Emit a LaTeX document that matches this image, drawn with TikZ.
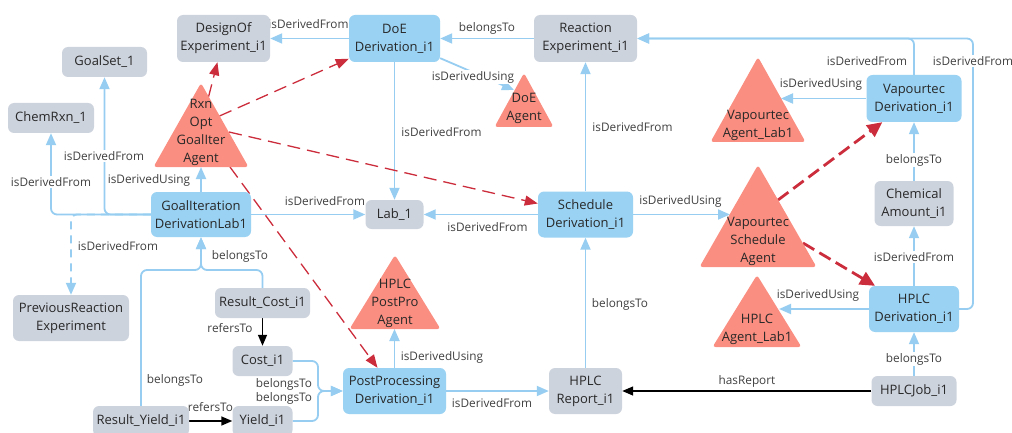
\documentclass[tikz,border=0pt]{standalone}
\usepackage{fontspec}
\setmainfont{Open Sans}
\usetikzlibrary{arrows.meta}
\pgfdeclarelayer{bg}
\pgfsetlayers{bg,main}
\definecolor{boxblue}{RGB}{153,210,243}
\definecolor{boxgray}{RGB}{205,211,221}
\definecolor{agentred}{RGB}{250,142,128}
\definecolor{linkblue}{RGB}{150,205,240}
\definecolor{dashred}{RGB}{204,45,60}
\definecolor{ink}{RGB}{40,40,40}
\definecolor{lblink}{RGB}{64,64,64}
\newcommand\nfont{\fontsize{13}{18}\selectfont}
\newcommand\lfont{\fontsize{11.8}{14}\selectfont}
% agent triangle: apex x, apex y, base y, half base width
\newcommand\agenttri[4]{\fill[agentred, rounded corners=3pt] (#1,#2) -- (#1+#4,#3) -- (#1-#4,#3) -- cycle;}
\begin{document}
\begin{tikzpicture}[x=1pt,y=-1pt,
  box/.style={rounded corners=6pt, align=center, text=ink, inner sep=0pt, font=\nfont},
  bluebox/.style={box, fill=boxblue},
  graybox/.style={box, fill=boxgray},
  wh/.style 2 args={minimum width=#1pt, minimum height=#2pt},
  agenttext/.style={align=center, text=ink, font=\nfont, inner sep=0pt},
  lbl/.style={font=\lfont, text=lblink, fill=white, inner sep=1pt},
  link/.style={draw=linkblue, line width=1.8pt, rounded corners=6pt, -{Triangle[length=12pt,width=10pt]}},
  refer/.style={draw=black, line width=1.4pt, -{Triangle[length=11pt,width=9pt]}},
  plan/.style={draw=dashred, line width=1.3pt, dash pattern=on 13pt off 7pt, -{Triangle[length=13pt,width=10pt]}},
  planbold/.style={draw=dashred, line width=2.8pt, dash pattern=on 13pt off 6pt, -{Triangle[length=15pt,width=14pt]}},
]
\useasboundingbox (0,0) rectangle (1012,433);

% agents
\agenttri{201}{83}{167}{47.5}
\agenttri{524}{73}{127}{29.5}
\agenttri{758}{57}{142}{47.5}
\agenttri{758}{165}{267}{58.5}
\agenttri{757}{275}{347}{44.5}
\agenttri{395}{255}{329}{45.5}
\node[agenttext] (rxa) at (201,132.5) {Rxn\\Opt\\GoalIter\\Agent};
\node[agenttext] (doea) at (524,108.5) {DoE\\Agent};
\node[agenttext] (vala) at (758,125.5) {Vapourtec\\Agent\_Lab1};
\node[agenttext] (vsa) at (758,241) {Vapourtec\\Schedule\\Agent};
\node[agenttext] (hala) at (757,329.5) {HPLC\\Agent\_Lab1};
\node[agenttext] (hpa) at (395,303.5) {HPLC\\PostPro\\Agent};

% entities
\node[graybox, wh={93}{47}] (de) at (223.5,38.5) {DesignOf\\Experiment\_i1};
\node[graybox, wh={85}{30}] (gs) at (104.5,62) {GoalSet\_1};
\node[graybox, wh={86}{30}] (chem) at (51,118) {ChemRxn\_1};
\node[bluebox, wh={100}{45}] (gi) at (201,214.5) {GoalIteration\\DerivationLab1};
\node[graybox, wh={116}{46}] (prev) at (71,318) {PreviousReaction\\Experiment};
\node[bluebox, wh={91}{47}] (dd) at (394.5,38.5) {DoE\\Derivation\_i1};
\node[graybox, wh={103}{47}] (re) at (585.5,38.5) {Reaction\\Experiment\_i1};
\node[graybox, wh={58}{29}] (lab) at (394.5,214.5) {Lab\_1};
\node[bluebox, wh={95}{46}] (sd) at (585.5,214.5) {Schedule\\Derivation\_i1};
\node[bluebox, wh={95}{47}] (vd) at (914,98.5) {Vapourtec\\Derivation\_i1};
\node[graybox, wh={79}{45}] (ca) at (914,203.5) {Chemical\\Amount\_i1};
\node[bluebox, wh={90}{46}] (hd) at (914,309) {HPLC\\Derivation\_i1};
\node[graybox, wh={85}{30}] (hj) at (914,391) {HPLCJob\_i1};
\node[graybox, wh={73}{46}] (hr) at (585.5,391) {HPLC\\Report\_i1};
\node[bluebox, wh={103}{46}] (pp) at (394.5,391) {PostProcessing\\Derivation\_i1};
\node[graybox, wh={95}{30}] (rc) at (262.5,303) {Result\_Cost\_i1};
\node[graybox, wh={60}{30}] (cost) at (262.5,361) {Cost\_i1};
\node[graybox, wh={60}{30}] (yield) at (262.5,421) {Yield\_i1};
\node[graybox, wh={96}{30}] (ry) at (141,421) {Result\_Yield\_i1};

% connector end points on agent borders and junctions
\coordinate (doein) at (514,90);
\coordinate (rxbase) at (201,167);
\coordinate (vsain) at (730,214.5);
\coordinate (valin) at (781,98.5);
\coordinate (halin) at (779,309);
\coordinate (hpabase) at (394.5,329);
\coordinate (gij) at (201,270);
\coordinate (ppj) at (318,391);
\coordinate (rjoin) at (973,38.5);
\coordinate (rxo1) at (208.5,97);
\coordinate (rxo2) at (219.5,116);
\coordinate (rxo3) at (229,132);
\coordinate (rxo4) at (230,167);
\coordinate (vso1) at (778,200);
\coordinate (vso2) at (803,243);

\begin{pgfonlayer}{bg}
  \draw[link] (dd) -- (de);
  \draw[link] (re) -- (dd);
  \draw[link] (dd) -- (doein);
  \draw[link] (dd) -- (lab);
  \draw[link] (sd) -- (re);
  \draw[link] (sd) -- (lab);
  \draw[link] (gi) -- (lab);
  \draw[link] (sd.east) -- (vsain);
  \draw[link] (gi.north) -- (rxbase);
  \draw[link] (gi.west) -| (chem.south);
  \draw[link] (gi.west) -| (gs.south);
  \draw[link, dash pattern=on 8pt off 6pt] (gi.west) -| (prev.north);
  \draw[link] (rc.north) |- (gij) -- (gi.south);
  \draw[link] (ry.north) |- (gij) -- (gi.south);
  \draw[refer] (rc) -- (cost);
  \draw[refer] (ry) -- (yield);
  \draw[link] (cost.east) -| (ppj) -- (pp.west);
  \draw[link] (yield.east) -| (ppj) -- (pp.west);
  \draw[link] (pp.north) -- (hpabase);
  \draw[link] (pp) -- (hr);
  \draw[link] (hr) -- (sd);
  \draw[refer] (hj) -- (hr);
  \draw[link] (hj) -- (hd);
  \draw[link] (hd) -- (ca);
  \draw[link] (ca) -- (vd);
  \draw[link] (hd) -- (halin);
  \draw[link] (vd) -- (valin);
  \draw[link] (hd.east) -| (rjoin) -- (re.east);
  \draw[link] (vd.north) |- (re.east);

  \draw[plan] (rxo1) -- (de);
  \draw[plan] (rxo2) -- (dd);
  \draw[plan] (rxo3) -- (sd);
  \draw[plan] (rxo4) -- (pp);
  \draw[planbold] (vso1) -- (vd);
  \draw[planbold] (vso2) -- (hd);

  % connector labels
  \node[lbl] at (308.5,24) {isDerivedFrom};
  \node[lbl] at (487,28) {belongsTo};
  \node[lbl] at (473,77) {isDerivedUsing};
  \node[lbl] at (441.5,132) {isDerivedFrom};
  \node[lbl] at (632.5,127) {isDerivedFrom};
  \node[lbl] at (867,61) {isDerivedFrom};
  \node[lbl] at (973,61) {isDerivedFrom};
  \node[lbl] at (821,84) {isDerivedUsing};
  \node[lbl] at (914,160) {belongsTo};
  \node[lbl] at (680.5,201) {isDerivedUsing};
  \node[lbl] at (325,201) {isDerivedFrom};
  \node[lbl] at (487.5,227) {isDerivedFrom};
  \node[lbl] at (149,180) {isDerivedUsing};
  \node[lbl] at (104,156) {isDerivedFrom};
  \node[lbl] at (51,182) {isDerivedFrom};
  \node[lbl] at (118,246) {isDerivedFrom};
  \node[lbl] at (240,256) {belongsTo};
  \node[lbl] at (175,380) {belongsTo};
  \node[lbl] at (230,328) {refersTo};
  \node[lbl] at (210.5,407) {refersTo};
  \node[lbl, align=center] at (284,391) {belongsTo\\belongsTo};
  \node[lbl] at (442,357) {isDerivedUsing};
  \node[lbl] at (492,403) {isDerivedFrom};
  \node[lbl] at (620,304) {belongsTo};
  \node[lbl] at (747,381) {hasReport};
  \node[lbl] at (914,359) {belongsTo};
  \node[lbl] at (914,257) {isDerivedFrom};
  \node[lbl] at (818,295) {isDerivedUsing};
\end{pgfonlayer}
\end{tikzpicture}
\end{document}
